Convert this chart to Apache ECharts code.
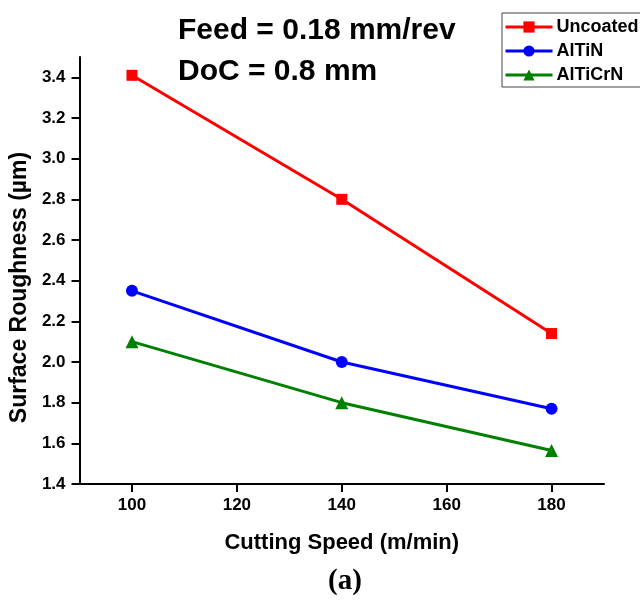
<!DOCTYPE html>
<html>
<head>
<meta charset="utf-8">
<script src="https://cdn.jsdelivr.net/npm/echarts@6/dist/echarts.min.js"></script>
<style>
html,body{margin:0;padding:0;background:#fff;}
#main{width:640px;height:601px;}
</style>
</head>
<body>
<div id="main"></div>
<script>
var speeds = [100, 140, 180];
var uncoated = [3.41, 2.80, 2.14];
var altin = [2.35, 2.00, 1.77];
var alticrn = [2.10, 1.80, 1.565];
var xTicks = [100, 120, 140, 160, 180];
var yTicks = [1.4, 1.6, 1.8, 2.0, 2.2, 2.4, 2.6, 2.8, 3.0, 3.2, 3.4];

var font = 'Arial, "Liberation Sans", sans-serif';

function pairs(vals) {
    return speeds.map(function (s, i) { return [s, vals[i]]; });
}

var option = {
    animation: false,
    textStyle: { fontFamily: font },
    grid: { left: 79, right: 36, top: 57, bottom: 117 },
    graphic: [
        { type: 'text', x: 178, y: 31, style: { text: 'Feed = 0.18 mm/rev', font: 'bold 30px ' + font, fill: '#000', verticalAlign: 'middle' } },
        { type: 'text', x: 178, y: 72, style: { text: 'DoC = 0.8 mm', font: 'bold 30px ' + font, fill: '#000', verticalAlign: 'middle' } },
        { type: 'text', x: 345, y: 582, style: { text: '(a)', font: 'bold 29px "Liberation Serif", "Times New Roman", serif', fill: '#000', align: 'center', verticalAlign: 'middle' } }
    ],
    legend: {
        orient: 'vertical',
        left: 502,
        top: 13,
        padding: [5, 2, 3, 2],
        itemGap: 6,
        itemWidth: 47,
        itemHeight: 14,
        borderColor: '#444',
        borderWidth: 1,
        backgroundColor: '#fff',
        lineStyle: { width: 3 },
        textStyle: { fontFamily: font, fontWeight: 'bold', fontSize: 18, color: '#000', padding: [0, 0, 0, -1] },
        data: ['Uncoated', 'AlTiN', 'AlTiCrN']
    },
    xAxis: {
        type: 'value',
        min: 90,
        max: 190,
        name: 'Cutting Speed (m/min)',
        nameLocation: 'middle',
        nameGap: 48,
        nameTextStyle: { fontFamily: font, fontWeight: 'bold', fontSize: 22, color: '#000' },
        axisLine: { show: true, onZero: false, lineStyle: { color: '#000', width: 2 } },
        axisTick: { show: true, length: 8, lineStyle: { color: '#000', width: 2 }, customValues: xTicks },
        axisLabel: { fontFamily: font, fontWeight: 'bold', fontSize: 17, color: '#000', margin: 13, customValues: xTicks },
        splitLine: { show: false }
    },
    yAxis: {
        type: 'value',
        min: 1.4,
        max: 3.5,
        name: 'Surface Roughness (\u00b5m)',
        nameLocation: 'middle',
        nameGap: 48,
        nameTextStyle: { fontFamily: font, fontWeight: 'bold', fontSize: 23, color: '#000', padding: [0, 34, 0, 0] },
        axisLine: { show: true, lineStyle: { color: '#000', width: 2 } },
        axisTick: { show: true, length: 8, lineStyle: { color: '#000', width: 2 }, customValues: yTicks },
        axisLabel: {
            fontFamily: font, fontWeight: 'bold', fontSize: 17, color: '#000', margin: 14,
            customValues: yTicks,
            formatter: function (v) { return v.toFixed(1); }
        },
        splitLine: { show: false }
    },
    series: [
        {
            name: 'Uncoated', type: 'line', data: pairs(uncoated),
            symbol: 'rect', symbolSize: 11,
            itemStyle: { color: '#ff0000' },
            lineStyle: { color: '#ff0000', width: 3 }
        },
        {
            name: 'AlTiN', type: 'line', data: pairs(altin),
            symbol: 'circle', symbolSize: 12,
            itemStyle: { color: '#0000ff' },
            lineStyle: { color: '#0000ff', width: 3 }
        },
        {
            name: 'AlTiCrN', type: 'line', data: pairs(alticrn),
            symbol: 'triangle', symbolSize: 13,
            itemStyle: { color: '#008000' },
            lineStyle: { color: '#008000', width: 3 }
        }
    ]
};

echarts.init(document.getElementById('main')).setOption(option);
</script>
</body>
</html>
